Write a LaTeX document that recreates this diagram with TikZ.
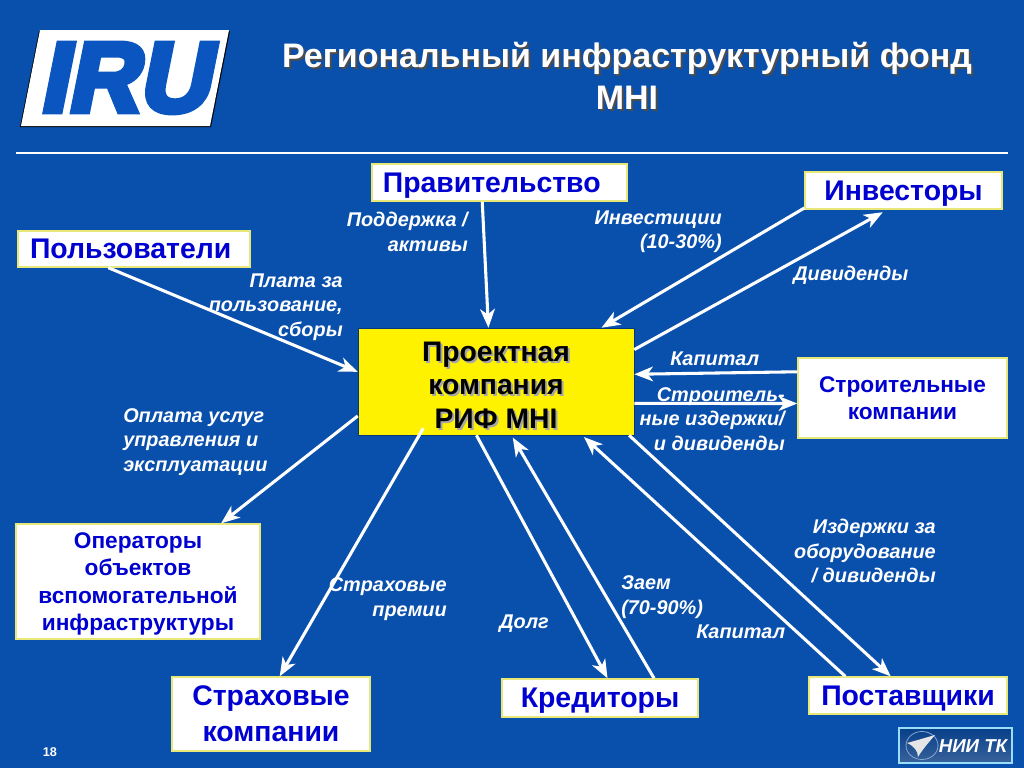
\documentclass[tikz,border=0pt]{standalone}
\usepackage{fontspec}
\usetikzlibrary{arrows.meta}
\setmainfont{Liberation Sans}
\newfontfamily\logofont[FakeSlant=0.2,FakeBold=6]{Liberation Sans Bold}
\newcommand{\withshadow}[2]{\leavevmode\rlap{\kern1.5pt\raisebox{-1.5pt}{\textcolor{#1}{#2}}}#2}
\definecolor{slideblue}{HTML}{094FAC}
\definecolor{boxblue}{HTML}{0000D0}
\definecolor{logoblue}{HTML}{0A55C0}
\definecolor{boxedge}{HTML}{E8E878}
\tikzset{
  box/.style={draw=boxedge, line width=1pt, fill=white, text=boxblue, inner sep=0pt, align=center, text depth=0pt},
  bigbox/.style={box, font=\bfseries\fontsize{21.3}{27}\selectfont},
  smallbox/.style={box, font=\bfseries\fontsize{17}{20.5}\selectfont},
  lbl/.style={text=white, inner sep=0pt, font=\bfseries\itshape\fontsize{14.9}{18.2}\selectfont},
  link/.style={-{Stealth[length=14pt, width=11pt, inset=4pt]}, white, line width=2.3pt},
}
\begin{document}
\begin{tikzpicture}[x=0.75pt, y=-0.75pt]
    \useasboundingbox (0,0) rectangle (1024,768);
    \fill[slideblue] (0,0) rectangle (1024,768);

    % IRU logo
    \fill[black] (39,31) -- (230,31) -- (211,127) -- (20,127) -- cycle;
    \fill[white] (40,30) -- (229,30) -- (210,126) -- (21,126) -- cycle;
    \node[text=logoblue, inner sep=0pt, font=\logofont\fontsize{74}{74}\selectfont] (iru) at (124,78) {IRU};

    % Title
    \node[text=white, inner sep=0pt, align=center, font=\bfseries\fontsize{25.5}{31}\selectfont] (title) at (627,77)
        {\withshadow{black!70}{Региональный инфраструктурный фонд}\\\withshadow{black!70}{MHI}};
    \draw[white, line width=0.8pt] (16,153) -- (1008,153);

    % Boxes
    \node[bigbox, minimum width=191.25pt, minimum height=27.75pt, text width=175pt, align=left] (gov) at (499.5,182.5) {Правительство};
    \node[bigbox, minimum width=147.75pt, minimum height=27.75pt] (investors) at (903.5,190.5) {Инвесторы};
    \node[bigbox, minimum width=174pt, minimum height=27pt, text width=156pt, align=left] (users) at (134,249) {Пользователи};
    \node[bigbox, minimum width=148.5pt, minimum height=55.5pt] (insurers) at (271,714) {Страховые\\компании};
    \node[bigbox, minimum width=147pt, minimum height=28.5pt] (creditors) at (600,698) {Кредиторы};
    \node[bigbox, minimum width=148.5pt, minimum height=27.75pt] (suppliers) at (908,695.5) {Поставщики};
    \node[smallbox, minimum width=156.75pt, minimum height=60pt] (builders) at (902.5,398) {Строительные\\компании};
    \node[smallbox, minimum width=183pt, minimum height=86.25pt] (operators) at (138,581.5) {Операторы\\объектов\\вспомогательной\\инфраструктуры};
    \node[draw=slideblue!70!black, fill=yellow, inner sep=0pt, align=center, minimum width=207pt, minimum height=80.25pt,
        text depth=0pt, font=\bfseries\fontsize{21.2}{25}\selectfont] (proj) at (496,381.5)
        {\rule{0pt}{20pt}\withshadow{black!35}{Проектная}\\\withshadow{black!35}{компания}\\\withshadow{black!35}{РИФ MHI}};

    % Arrows
    \draw[link] (gov.228) -- (proj.98.5);
    \draw[link] (investors.190) -- (proj.27);
    \draw[link, shorten >=4pt] (proj.13.6) -- (investors.230);
    \draw[link] (users.216.9) -- (proj.176.5);
    \draw[link] (proj.194.8) -- (operators.35);
    \draw[link] (builders.166) -- (proj.3.9);
    \draw[link] (proj.-9.3) -- (builders.183.3);
    \draw[link, shorten <=-6pt] (proj.215) -- (insurers.77.8);
    \draw[link] (proj.250.4) -- (creditors.69.8);
    \draw[link, shorten >=2pt] (creditors.20.8) -- (proj.-74.3);
    \draw[link, shorten >=2pt] (suppliers.163) -- (proj.-32.5);
    \draw[link] (proj.-22.8) -- (suppliers.132.6);

    % Labels
    \node[lbl, anchor=east, align=right] (lsupport) at (468,232) {Поддержка /\\активы};
    \node[lbl, anchor=east, align=right] (linvest) at (722,232) {Инвестиции\\(10-30\%)};
    \node[lbl, anchor=west] (ldiv) at (793,275) {Дивиденды};
    \node[lbl, anchor=east, align=right] (lfee) at (343,307) {Плата за\\пользование,\\сборы};
    \node[lbl, anchor=west] (lcap) at (670,359) {Капитал};
    \node[lbl, anchor=east, align=right] (lcost) at (785,419) {Строитель-\\ные издержки/\\и дивиденды};
    \node[lbl, anchor=west, align=left] (lpay) at (123,442) {Оплата услуг\\управления и\\эксплуатации};
    \node[lbl, anchor=east, align=right] (lequip) at (936,551) {Издержки за\\оборудование\\/ дивиденды};
    \node[lbl, anchor=east, align=right] (lprem) at (447,599) {Страховые\\премии};
    \node[lbl, anchor=west, align=left] (lloan) at (621,597) {Заем\\(70-90\%)};
    \node[lbl, anchor=west] (ldebt) at (499,624) {Долг};
    \node[lbl, anchor=west] (lcap2) at (696,632) {Капитал};

    % Page number and corner logo
    \node[text=white, inner sep=0pt, font=\bfseries\fontsize{9.5}{11}\selectfont] (page) at (50,752) {18};
    \shade[top color=slideblue!80!black, bottom color=slideblue!60!gray, draw=cyan!40!white, line width=0.8pt] (899,728) rectangle (1012,763);
    \draw[white!50!slideblue, line width=0.6pt] (922,745.5) ellipse (16 and 14);
    \fill[white!80!gray] (907,743) .. controls (918,740) and (928,737) .. (935,735) .. controls (929,742) and (922,750) .. (918,757) .. controls (918,751) and (914,746) .. (907,743) -- cycle;
    \node[text=white, inner sep=0pt, font=\bfseries\itshape\fontsize{14}{15}\selectfont] (nii) at (973,746) {НИИ ТК};
\end{tikzpicture}
\end{document}
